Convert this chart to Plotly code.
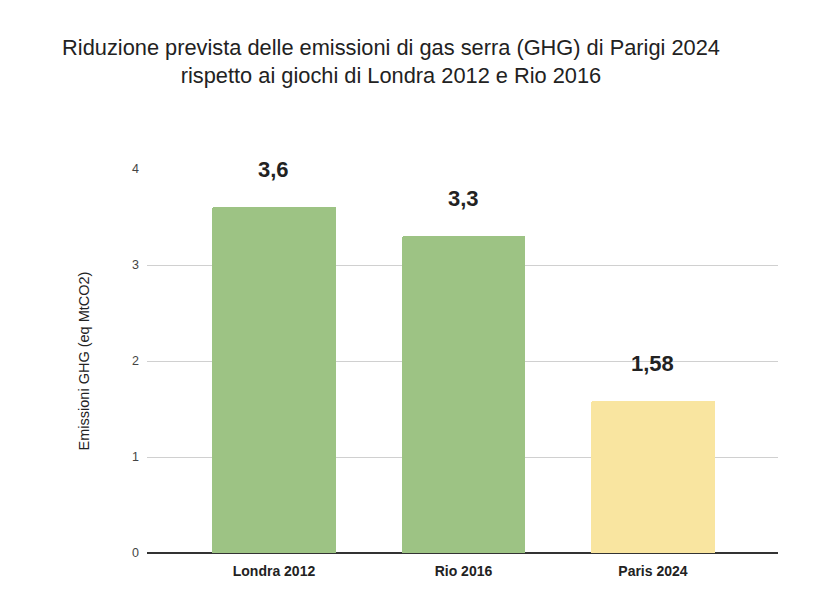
import plotly.graph_objects as go

categories = ["Londra 2012", "Rio 2016", "Paris 2024"]
values = [3.6, 3.3, 1.58]
value_labels = ["3,6", "3,3", "1,58"]
colors = ["#9dc384", "#9dc384", "#f9e5a0"]
y_ticks = [0, 1, 2, 3, 4]

fig = go.Figure()
fig.add_trace(go.Bar(
    x=categories, y=values, marker=dict(color=colors, line=dict(width=0), cornerradius=2),
    width=0.65, hoverinfo="skip", showlegend=False,
))
for c, v, t in zip(categories, values, value_labels):
    fig.add_annotation(x=c, y=v, text="<b>%s</b>" % t, showarrow=False, yshift=38,
                       font=dict(family="Liberation Sans, Arial", size=22, color="#222"))

fig.update_layout(
    width=836, height=608,
    margin=dict(l=139, r=66, t=161, b=63),
    paper_bgcolor="white", plot_bgcolor="white",
    title=dict(text="Riduzione prevista delle emissioni di gas serra (GHG) di Parigi 2024<br>rispetto ai giochi di Londra 2012 e Rio 2016",
               x=383/836, xanchor="center", y=1 - 47/608, yanchor="middle",
               font=dict(family="Liberation Sans, Arial", size=21.8, color="#222")),
    font=dict(family="Liberation Sans, Arial", color="#444"),
    bargap=0,
)
fig.update_xaxes(range=[-0.67, 2.66], showgrid=False, showline=False, ticks="",
                 tickfont=dict(size=14, color="#222", family="Liberation Sans, Arial"),
                 tickprefix="<b>", ticksuffix="</b>", ticklabelstandoff=8)
fig.update_yaxes(range=[0, 4], tickvals=y_ticks, showgrid=True, gridcolor="#d0d0d0", gridwidth=1,
                 zeroline=True, zerolinecolor="#333", zerolinewidth=1.5, ticks="",
                 tickfont=dict(size=12.5, color="#444"), ticklabelstandoff=7,
                 title=dict(text="Emissioni GHG (eq MtCO2)", font=dict(size=14.5, color="#222"), standoff=38))

fig.write_html("out.html")
